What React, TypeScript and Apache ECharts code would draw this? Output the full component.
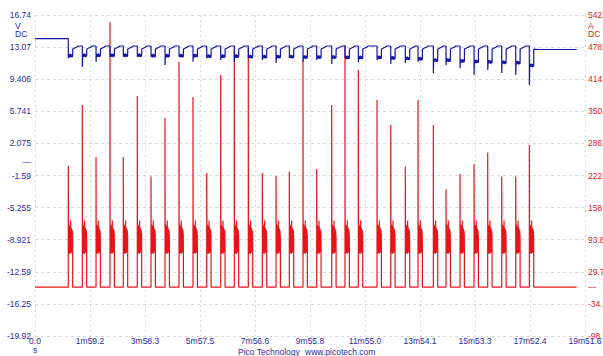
import React, { useEffect, useRef } from "react";
import * as echarts from "echarts";

// ---------- axis ticks & labels ----------
const xTickLabels = ["0.0\ns", "1m59.2", "3m58.3", "5m57.5", "7m56.6", "9m55.8", "11m55.0", "13m54.1", "15m53.3", "17m52.4", "19m51.6"];
const X_MAX = 1191.6;
const X_INTERVAL = 119.16;

const leftTicks = [-19.92, -16.25, -12.59, -8.921, -5.255, -1.59, 2.075, 5.741, 9.406, 13.07, 16.74];
const rightTicks = [-98.5, -34.38, 29.74, 93.86, 158.0, 222.1, 286.2, 350.3, 414.5, 478.6, 542.7];

// ---------- data ----------
// start time (s) of each load pulse
const pulseStart = [72.1, 102.5, 132.2, 162.5, 191.3, 221.6, 251.3, 281.7, 312.0, 342.3, 372.0, 402.3, 431.8, 462.1, 492.5, 522.2, 551.0, 580.6, 610.3, 642.8, 671.6, 700.5, 741.0, 770.7, 802.3, 829.8, 863.0, 890.5, 920.8, 951.2, 980.8, 1011.2, 1041.5, 1071.0];
// inrush current peak (A) of each pulse
const pulsePeak = [241, 363, 259, 528, 259, 381, 220, 337, 449, 379, 227, 423, 473, 477, 227, 221, 230, 453, 235, 363, 483, 433, 373, 323, 240, 373, 323, 194, 225, 245, 268, 220, 220, 283];
// noisy current during the load period (A)
const blockCurrent = [128, 70, 120, 66, 124, 74, 115, 68, 121, 72, 112, 67, 118, 75, 110, 69, 122, 73, 116, 66, 132, 70, 119, 74, 113, 68, 117, 71, 109, 76, 115, 69, 111, 73, 106, 78, 112, 72, 104, 80];
const ON_TIME = 9.5;
const currentBase = -1;

// lowest battery voltage (V) at each pulse start
const voltDip = [11.79, 10.8, 11.41, 11.94, 11.98, 11.98, 11.98, 11.03, 11.98, 11.41, 11.83, 11.6, 11.37, 11.83, 11.6, 11.26, 11.83, 11.37, 11.6, 11.14, 11.83, 11.37, 11.6, 11.14, 11.22, 11.41, 10.08, 11.03, 10.65, 9.89, 10.46, 10.12, 9.89, 8.75];
// voltage plateau (V) during each load period
const voltLoad = [12.1, 12.15, 12.15, 12.15, 12.15, 12.15, 12.1, 12.1, 12.1, 12.1, 12.05, 12.05, 12.05, 12.0, 12.0, 12.0, 12.0, 11.95, 11.95, 11.95, 11.9, 11.9, 11.9, 11.85, 11.8, 11.75, 11.6, 11.6, 11.5, 11.45, 11.4, 11.35, 11.3, 11.0];
// noise around the plateau (V)
const voltNoise = [0.18, -0.12, 0.15, -0.2, 0.1, -0.15, 0.2, -0.1, 0.12, -0.22, 0.08, -0.15, 0.14, -0.18, 0.05];
const voltStart = 14.05;
const voltRecover = 12.85;
const voltSettled = 13.05;
const voltHigh = 13.2;
const voltEnd = 12.8;
const DATA_END = 1173.6;

function buildCurrent(): number[][] {
  const pts: number[][] = [[0, currentBase]];
  pulseStart.forEach((t0, i) => {
    pts.push([t0, currentBase]);
    pts.push([t0, pulsePeak[i]]);
    const n = blockCurrent.length;
    blockCurrent.forEach((v, j) => {
      pts.push([t0 + 0.3 + (j * (ON_TIME - 0.3)) / (n - 1), v]);
    });
    pts.push([t0 + ON_TIME, currentBase]);
  });
  pts.push([DATA_END, currentBase]);
  return pts;
}

function buildVoltage(): number[][] {
  const pts: number[][] = [[0, voltStart]];
  let prev = voltStart;
  pulseStart.forEach((t0, i) => {
    const t1 = t0 + ON_TIME;
    pts.push([t0, prev]);
    pts.push([t0 + 0.1, voltDip[i]]);
    const n = voltNoise.length;
    voltNoise.forEach((d, j) => {
      pts.push([t0 + 0.8 + (j * (ON_TIME - 0.8)) / (n - 1), voltLoad[i] + d]);
    });
    pts.push([t1, voltLoad[i]]);
    pts.push([t1 + 0.1, voltRecover]);
    if (i < pulseStart.length - 1) {
      pts.push([t1 + 8, voltSettled]);
      pts.push([t1 + 12, voltHigh]);
      prev = voltHigh;
    }
  });
  pts.push([pulseStart[pulseStart.length - 1] + ON_TIME + 10, voltEnd]);
  pts.push([DATA_END, voltEnd]);
  return pts;
}

const FONT = "'Liberation Sans', Arial, sans-serif";
const BLUE_TXT = "#2b2ba0";
const RED_TXT = "#e02020";
const GRID = "#cfd8e3";

function nearestLabel(ticks: number[], v: number): string {
  if (Math.abs(v) < 1e-9) return "—";
  let best = 0;
  ticks.forEach((t, i) => {
    if (Math.abs(t - v) < Math.abs(ticks[best] - v)) best = i;
  });
  return String(ticks[best]);
}

export default function App() {
  const ref = useRef<HTMLDivElement>(null);
  useEffect(() => {
    const chart = echarts.init(ref.current!, null, { renderer: "svg" });
    const option: any = {
      animation: false,
      backgroundColor: "#ffffff",
      grid: { left: 35, right: 18, top: 15, bottom: 20, containLabel: false, outerBoundsMode: "none" },
      xAxis: {
        type: "value",
        min: 0,
        max: X_MAX,
        interval: X_INTERVAL,
        axisLine: { show: false },
        axisTick: { show: false },
        splitLine: { show: true, lineStyle: { color: GRID, type: [2, 3], width: 1 } },
        axisLabel: {
          color: BLUE_TXT,
          fontFamily: FONT,
          fontSize: 8.5,
          lineHeight: 8.5,
          margin: 1,
          formatter: (v: number) => xTickLabels[Math.round(v / X_INTERVAL)] ?? "",
        },
      },
      yAxis: [
        {
          type: "value",
          position: "left",
          min: leftTicks[0],
          max: leftTicks[leftTicks.length - 1],
          axisLine: { show: false },
          axisTick: { show: false, customValues: leftTicks },
          splitLine: { show: true, lineStyle: { color: GRID, type: [3, 3], width: 1 } },
          axisLabel: {
            customValues: [...leftTicks, 0],
            color: BLUE_TXT,
            fontFamily: FONT,
            fontSize: 8.5,
            margin: 4,
            formatter: (v: number) => nearestLabel(leftTicks, v),
          },
        },
        {
          type: "value",
          position: "right",
          min: rightTicks[0],
          max: rightTicks[rightTicks.length - 1],
          axisLine: { show: false },
          axisTick: { show: false, customValues: rightTicks },
          splitLine: { show: false },
          axisLabel: {
            customValues: [...rightTicks, 0],
            color: RED_TXT,
            fontFamily: FONT,
            fontSize: 8.5,
            margin: 3,
            formatter: (v: number) => nearestLabel(rightTicks, v),
          },
        },
      ],
      series: [
        {
          name: "Current",
          type: "line",
          yAxisIndex: 1,
          data: buildCurrent(),
          showSymbol: false,
          symbol: "none",
          lineStyle: { color: "#e8141a", width: 1.2 },
          z: 2,
        },
        {
          name: "Voltage",
          type: "line",
          yAxisIndex: 0,
          data: buildVoltage(),
          showSymbol: false,
          symbol: "none",
          lineStyle: { color: "#1414a8", width: 1.2 },
          z: 3,
        },
      ],
      graphic: [
        { type: "text", left: 15, top: 21, style: { text: "V\nDC", fill: BLUE_TXT, font: `8.5px ${FONT}`, lineHeight: 8, align: "center", x: 8 } },
        { type: "text", left: 588, top: 21, style: { text: "A\nDC", fill: RED_TXT, font: `8.5px ${FONT}`, lineHeight: 8 } },
        { type: "text", left: 238, top: 347, style: { text: "Pico Technology", fill: BLUE_TXT, font: `8.5px ${FONT}` } },
        { type: "text", left: 305, top: 347, style: { text: "www.picotech.com", fill: BLUE_TXT, font: `8.5px ${FONT}` } },
      ],
    };
    chart.setOption(option);
    return () => chart.dispose();
  }, []);
  return (
    <div
      ref={ref}
      style={{ position: "fixed", left: 0, top: 0, width: 603, height: 356, background: "#fff" }}
    />
  );
}
